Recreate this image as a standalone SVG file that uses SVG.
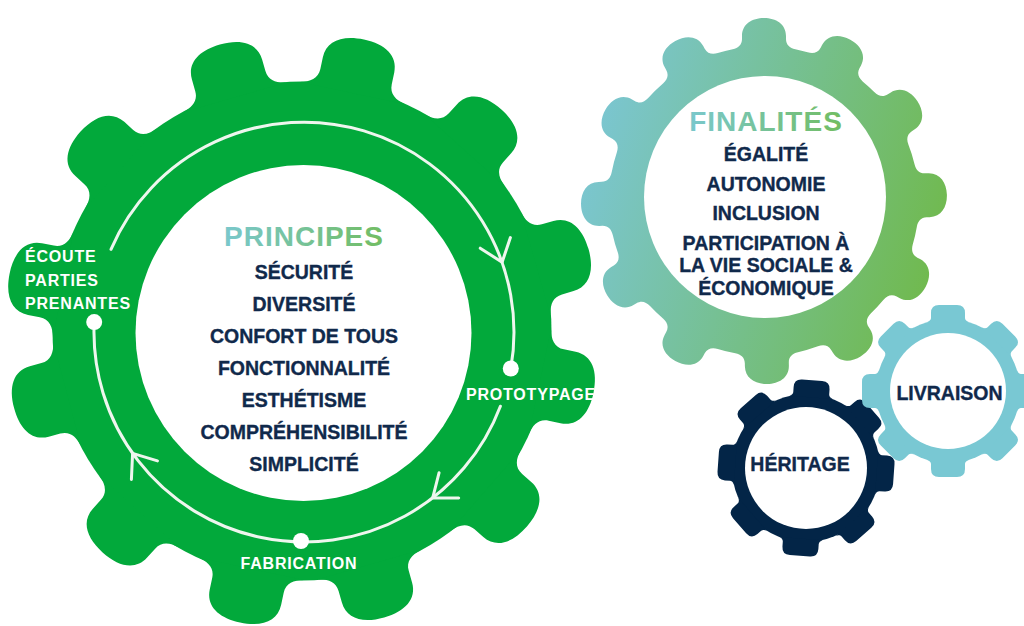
<svg xmlns="http://www.w3.org/2000/svg" xmlns:xlink="http://www.w3.org/1999/xlink" width="1024" height="626" viewBox="0 0 1024 626">
<style>
  .item { font-family: "Liberation Sans", Arial, sans-serif; font-weight: 700; font-size: 19.5px; fill: #10294b; stroke: #10294b; stroke-width: 0.35; text-anchor: middle; }
  .label { font-family: "Liberation Sans", Arial, sans-serif; font-weight: 700; font-size: 16px; fill: #ffffff; letter-spacing: 0.8px; }
  .title { font-family: "Liberation Sans", Arial, sans-serif; font-weight: 700; font-size: 28px; fill: url(#titleGrad); text-anchor: middle; letter-spacing: 1px; }
  .ring { fill: none; stroke: #eef6ee; stroke-width: 3; stroke-linecap: round; stroke-linejoin: round; }
  .dot { fill: #ffffff; }
</style>
<defs>
  <linearGradient id="finGrad" gradientUnits="userSpaceOnUse" x1="580" y1="150" x2="950" y2="260">
    <stop offset="0" stop-color="#7bc6d3"/>
    <stop offset="1" stop-color="#70b94a"/>
  </linearGradient>
  <linearGradient id="titleGrad" x1="0" y1="0" x2="1" y2="0">
    <stop offset="0" stop-color="#7ac8cc"/>
    <stop offset="1" stop-color="#72bd62"/>
  </linearGradient>
  <path id="toothL" d="M -53.6,-243.2 C -43.8,-245.4 -36.5,-250 -36.5,-260 L -36.5,-272 C -36.5,-289 -22,-298 0,-298 C 22,-298 36.5,-289 36.5,-272 L 36.5,-260 C 36.5,-250 43.8,-245.4 53.6,-243.2 Z"/>
  <path id="toothT" d="M -31.8,-151.7 C -25.9,-152.9 -22,-156 -22,-162 L -22,-165 C -22,-177 -12,-183 0,-183 C 12,-183 22,-177 22,-165 L 22,-162 C 22,-156 25.9,-152.9 31.8,-151.7 Z"/>
  <path id="toothS1" d="M -20.7,-69 C -18.3,-69.7 -17,-71.5 -17,-73 L -17,-78 Q -17,-86 -9,-86 L 9,-86 Q 17,-86 17,-78 L 17,-73 C 17,-71.5 18.3,-69.7 20.7,-69 Z"/>
  <path id="toothS2" d="M -21.7,-70.8 C -19.3,-71.5 -18,-73.5 -18,-75 L -18,-80 Q -18,-88 -10,-88 L 10,-88 Q 18,-88 18,-80 L 18,-75 C 18,-73.5 19.3,-71.5 21.7,-70.8 Z"/>
  <clipPath id="finClip">
    <circle cx="764" cy="201" r="155"/>
    <use href="#toothT" transform="translate(764,201) rotate(0)"/>
    <use href="#toothT" transform="translate(764,201) rotate(28)"/>
    <use href="#toothT" transform="translate(764,201) rotate(57)"/>
    <use href="#toothT" transform="translate(764,201) rotate(88)"/>
    <use href="#toothT" transform="translate(764,201) rotate(118)"/>
    <use href="#toothT" transform="translate(764,201) rotate(148)"/>
    <use href="#toothT" transform="translate(764,201) rotate(179)"/>
    <use href="#toothT" transform="translate(764,201) rotate(209)"/>
    <use href="#toothT" transform="translate(764,201) rotate(239)"/>
    <use href="#toothT" transform="translate(764,201) rotate(269)"/>
    <use href="#toothT" transform="translate(764,201) rotate(300)"/>
    <use href="#toothT" transform="translate(764,201) rotate(331)"/>
  </clipPath>
</defs>

<rect width="1024" height="626" fill="#ffffff"/>

<g id="gear-principes">
  <g transform="translate(302,331)" fill="#02a93b">
    <circle r="249.5"/>
    <use href="#toothL" transform="rotate(344)"/>
    <use href="#toothL" transform="rotate(12)"/>
    <use href="#toothL" transform="rotate(42)"/>
    <use href="#toothL" transform="rotate(74)"/>
    <use href="#toothL" transform="rotate(102)"/>
    <use href="#toothL" transform="rotate(131)"/>
    <use href="#toothL" transform="rotate(164)"/>
    <use href="#toothL" transform="rotate(192)"/>
    <use href="#toothL" transform="rotate(222)"/>
    <use href="#toothL" transform="rotate(255)"/>
    <use href="#toothL" transform="rotate(281)"/>
    <use href="#toothL" transform="rotate(312)"/>
  </g>
  <circle cx="303.5" cy="333" r="168" fill="#ffffff"/>
  <text class="title" x="304" y="246">PRINCIPES</text>
  <text class="item" x="304" y="278.5">SÉCURITÉ</text>
  <text class="item" x="304" y="310.5">DIVERSITÉ</text>
  <text class="item" x="304" y="342.5">CONFORT DE TOUS</text>
  <text class="item" x="304" y="374.5">FONCTIONNALITÉ</text>
  <text class="item" x="304" y="406.5">ESTHÉTISME</text>
  <text class="item" x="304" y="438.5">COMPRÉHENSIBILITÉ</text>
  <text class="item" x="304" y="470.5">SIMPLICITÉ</text>
</g>

<g id="connectors">
  <path class="ring" d="M 111.0 249.3 A 210 210 0 0 1 510.8 368.5"/>
  <path class="ring" d="M 500.4 406.2 A 210 210 0 0 1 94.2 322.1"/>
  <polyline class="ring" points="480.2,248.2 502.1,262.2 510.4,237.6"/>
  <polyline class="ring" points="439.1,472.7 432.7,497.9 458.7,498"/>
  <polyline class="ring" points="131.4,479.4 132.6,453.4 157.5,460.9"/>
</g>

<g id="step-ecoute">
  <circle class="dot" cx="94.2" cy="322.1" r="8"/>
  <text class="label" x="25" y="262">ÉCOUTE</text>
  <text class="label" x="25" y="285.5">PARTIES</text>
  <text class="label" x="25" y="308.5">PRENANTES</text>
</g>
<g id="step-prototypage">
  <circle class="dot" cx="510.8" cy="368.5" r="8"/>
  <text class="label" x="466" y="400">PROTOTYPAGE</text>
</g>
<g id="step-fabrication">
  <circle class="dot" cx="301" cy="541" r="8"/>
  <text class="label" x="299" y="568.5" text-anchor="middle">FABRICATION</text>
</g>

<g id="gear-finalites">
  <rect x="560" y="0" width="420" height="400" fill="url(#finGrad)" clip-path="url(#finClip)"/>
  <circle cx="765" cy="197" r="121" fill="#ffffff"/>
  <text class="title" x="766" y="131">FINALITÉS</text>
  <text class="item" x="766" y="161">ÉGALITÉ</text>
  <text class="item" x="766" y="190.5">AUTONOMIE</text>
  <text class="item" x="766" y="220">INCLUSION</text>
  <text class="item" x="766" y="249.5">PARTICIPATION À</text>
  <text class="item" x="766" y="272">LA VIE SOCIALE &amp;</text>
  <text class="item" x="766" y="294.5">ÉCONOMIQUE</text>
</g>

<g id="gear-heritage">
  <g transform="translate(806,468)" fill="#032547">
    <circle r="74"/>
    <use href="#toothS2" transform="rotate(4)"/>
    <use href="#toothS2" transform="rotate(49)"/>
    <use href="#toothS2" transform="rotate(94)"/>
    <use href="#toothS2" transform="rotate(139)"/>
    <use href="#toothS2" transform="rotate(184)"/>
    <use href="#toothS2" transform="rotate(229)"/>
    <use href="#toothS2" transform="rotate(274)"/>
    <use href="#toothS2" transform="rotate(319)"/>
  </g>
  <circle cx="806" cy="468" r="61" fill="#ffffff"/>
  <text class="item" x="800" y="471">HÉRITAGE</text>
</g>

<g id="gear-livraison">
  <g transform="translate(948,391)" fill="#79c8d3">
    <circle r="72"/>
    <use href="#toothS1" transform="rotate(0)"/>
    <use href="#toothS1" transform="rotate(45)"/>
    <use href="#toothS1" transform="rotate(90)"/>
    <use href="#toothS1" transform="rotate(135)"/>
    <use href="#toothS1" transform="rotate(180)"/>
    <use href="#toothS1" transform="rotate(225)"/>
    <use href="#toothS1" transform="rotate(270)"/>
    <use href="#toothS1" transform="rotate(315)"/>
  </g>
  <circle cx="948" cy="391" r="58" fill="#ffffff"/>
  <text class="item" x="949.5" y="399.5">LIVRAISON</text>
</g>
</svg>
